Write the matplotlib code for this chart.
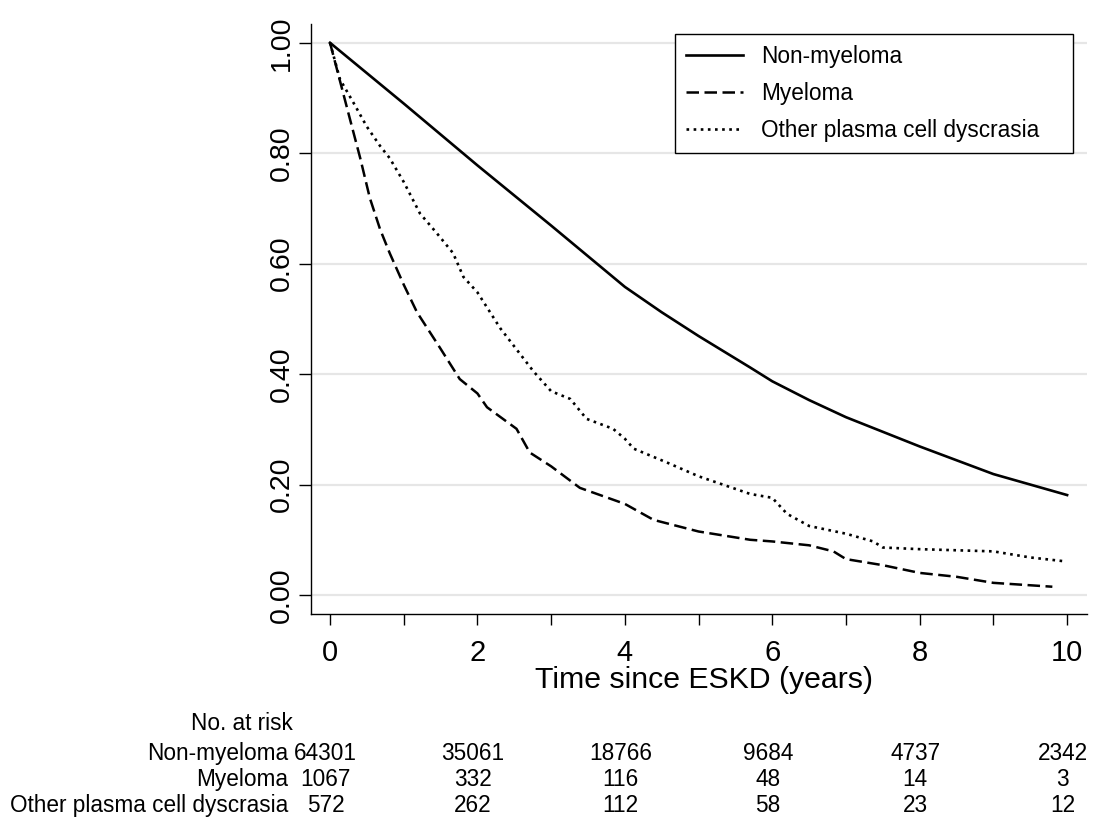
import numpy as np
import matplotlib; matplotlib.use("Agg")
import matplotlib.pyplot as plt
import matplotlib.transforms as mtrans

plt.rcParams["font.family"] = ["Liberation Sans", "DejaVu Sans"]

# survival curves (years, survival)
t_nonmy = [0, 0.5, 1.0, 2.0, 3.0, 4.0, 4.5, 5.0, 5.7, 6.0, 6.5, 7.0, 8.0, 9.0, 10.0]
s_nonmy = [1.0, 0.945, 0.890, 0.778, 0.669, 0.558, 0.512, 0.469, 0.412, 0.387, 0.353, 0.322, 0.269, 0.219, 0.181]

t_my = [0, 0.27, 0.41, 0.54, 0.68, 0.81, 1.0, 1.18, 1.49, 1.76, 2.0, 2.13, 2.53, 2.71, 3.0, 3.39,
        4.0, 4.39, 5.0, 5.7, 6.0, 6.5, 6.83, 7.0, 7.5, 8.0, 8.5, 9.0, 9.8]
s_my = [1.0, 0.862, 0.791, 0.719, 0.662, 0.619, 0.562, 0.512, 0.448, 0.391, 0.365, 0.340, 0.301, 0.258, 0.233, 0.194,
        0.165, 0.136, 0.115, 0.100, 0.097, 0.090, 0.079, 0.065, 0.054, 0.040, 0.033, 0.022, 0.015]

t_opcd = [0, 0.135, 0.32, 0.5, 0.68, 0.81, 1.0, 1.22, 1.45, 1.67, 1.81, 2.0, 2.31, 2.76, 3.0, 3.26, 3.48,
          3.84, 4.0, 4.12, 4.57, 5.0, 5.7, 6.0, 6.2, 6.5, 7.0, 7.37, 7.5, 8.0, 9.0, 9.5, 9.97]
s_opcd = [1.0, 0.934, 0.891, 0.848, 0.813, 0.791, 0.748, 0.691, 0.655, 0.619, 0.576, 0.548, 0.483, 0.405, 0.369, 0.355, 0.319,
          0.301, 0.283, 0.265, 0.240, 0.215, 0.183, 0.176, 0.147, 0.125, 0.111, 0.097, 0.086, 0.083, 0.079, 0.068, 0.061]

groups = ["Non-myeloma", "Myeloma", "Other plasma cell dyscrasia"]
risk_times = [0, 2, 4, 6, 8, 10]
risk_nonmy = [64301, 35061, 18766, 9684, 4737, 2342]
risk_my = [1067, 332, 116, 48, 14, 3]
risk_opcd = [572, 262, 112, 58, 23, 12]

W, H = 1098, 821
fig = plt.figure(figsize=(W/100, H/100), dpi=100)
ax = fig.add_axes([311/W, 1-614/H, 776/W, 590/H])

ax.plot(t_nonmy, s_nonmy, color="black", lw=1.9, label=groups[0], zorder=3)
ax.plot(t_my, s_my, color="black", lw=1.8, dashes=(5, 2.2), label=groups[1], zorder=3)
ax.plot(t_opcd, s_opcd, color="black", lw=1.9, dashes=(1, 1.7), label=groups[2], zorder=3)

ax.set_xlim(-0.258, 10.27); ax.set_ylim(-0.0344, 1.034)
ax.set_yticks(np.arange(0, 1.01, 0.2))
ax.set_yticklabels([f"{v:.2f}" for v in np.arange(0, 1.01, 0.2)], rotation=90, va="center", fontsize=20.5)
ax.set_xticks(range(0, 11, 2)); ax.set_xticks(range(1, 10, 2), minor=True)
ax.set_xticklabels([str(v) for v in range(0, 11, 2)], fontsize=21)
ax.tick_params(axis="y", length=8.6, width=1.0, pad=3)
ax.tick_params(axis="x", which="both", length=8, width=1.0, pad=10)
ax.yaxis.grid(True, color="#e6e6e6", lw=1.6)
ax.set_axisbelow(True)
for s in ("top", "right"): ax.spines[s].set_visible(False)
for s in ("left", "bottom"): ax.spines[s].set_linewidth(1.0)
fig.text(704/W, 1-688/H, "Time since ESKD (years)", ha="center", va="baseline", fontsize=21.8)

leg = ax.legend(loc="upper left", bbox_to_anchor=(0.4687, 0.783, 0.5129, 0.2), mode="expand",
                fontsize=16.3, frameon=True, fancybox=False, edgecolor="black", framealpha=1,
                handlelength=2.5, handletextpad=0.8, labelspacing=0.6, borderpad=0.5, borderaxespad=0)
leg.get_frame().set_linewidth(1.0)

# number at risk table
tr = mtrans.blended_transform_factory(ax.transData, fig.transFigure)
fig.text(293/W, 1-723/H, "No. at risk", ha="right", va="center", fontsize=16.3)
rows_y = [753, 779, 805]
for name, counts, yp in zip(groups, [risk_nonmy, risk_my, risk_opcd], rows_y):
    fig.text(288/W, 1-yp/H, name, ha="right", va="center", fontsize=16.3)
    for t, n in zip(risk_times, counts):
        ax.text(t-0.06, 1-yp/H, str(n), transform=tr, ha="center", va="center", fontsize=16.3)

fig.savefig("out.png", dpi=100)
